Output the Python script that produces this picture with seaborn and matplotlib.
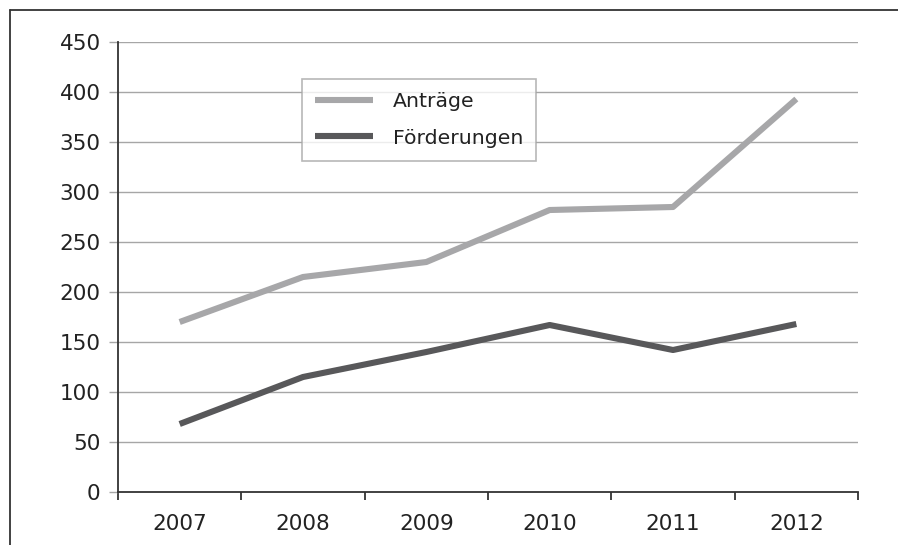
import matplotlib
matplotlib.use("Agg")
import matplotlib.pyplot as plt
from matplotlib.lines import Line2D
import seaborn as sns
import pandas as pd

# Daten
jahre = [2007, 2008, 2009, 2010, 2011, 2012]
antraege = [170, 215, 230, 282, 285, 393]
foerderungen = [68, 115, 140, 167, 142, 168]
serien = ["Anträge", "Förderungen"]
y_ticks = [0, 50, 100, 150, 200, 250, 300, 350, 400, 450]

sns.set_theme(style="white")
plt.rcParams["font.family"] = ["DejaVu Sans"]
FS = 15.5

df = pd.DataFrame({
    "pos": list(range(len(jahre))) * 2,
    "wert": antraege + foerderungen,
    "serie": [serien[0]] * len(jahre) + [serien[1]] * len(jahre),
})

fig = plt.figure(figsize=(8.98, 5.45), dpi=100)
ax = fig.add_axes([118 / 898, 1 - 492 / 545, 740 / 898, 450 / 545])

# Gitterlinien
for v in y_ticks[1:]:
    ax.axhline(v, color="#a6a6a6", lw=1.0, zorder=0)

sns.lineplot(data=df, x="pos", y="wert", hue="serie",
             palette={"Anträge": "#a7a7a9", "Förderungen": "#58585a"},
             lw=4.4, ax=ax, legend=False, solid_capstyle="butt")

ax.set_xlim(-0.5, len(jahre) - 0.5)
ax.set_ylim(0, 450)
ax.set_xlabel("")
ax.set_ylabel("")

# Achsen
for s in ["top", "right"]:
    ax.spines[s].set_visible(False)
ax.spines["left"].set_color("#333333")
ax.spines["bottom"].set_color("#333333")
ax.spines["left"].set_linewidth(1.3)
ax.spines["bottom"].set_linewidth(1.3)

ax.set_yticks(y_ticks)
ax.set_yticklabels([str(v) for v in y_ticks], fontsize=FS, color="#222222")
ax.tick_params(axis="y", length=6.5, width=1.0, color="#a6a6a6", pad=6, direction="out", left=True)

ax.set_xticks(range(len(jahre)))
ax.set_xticklabels([str(j) for j in jahre], fontsize=FS, color="#222222")
ax.set_xticks([i - 0.5 for i in range(len(jahre) + 1)], minor=True)
ax.tick_params(axis="x", which="major", length=0, pad=16)
ax.tick_params(axis="x", which="minor", length=6, width=1.3, color="#333333", direction="out", bottom=True)

# Legende
handles = [Line2D([], [], color="#a7a7a9", lw=4.4, solid_capstyle="butt"),
           Line2D([], [], color="#58585a", lw=4.4, solid_capstyle="butt")]
leg = ax.legend(handles, serien, loc="upper left", bbox_to_anchor=(0.2486, 0.918),
                borderaxespad=0, frameon=True, fancybox=False, fontsize=FS - 0.8,
                handlelength=2.85, handletextpad=0.95, borderpad=0.65, labelspacing=0.85)
leg.get_frame().set_edgecolor("#a6a6a6")
leg.get_frame().set_linewidth(1.2)
for t in leg.get_texts():
    t.set_color("#222222")

# Rahmen oben und links
fig.add_artist(Line2D([10 / 898, 1.02], [1 - 9.5 / 545, 1 - 9.5 / 545], color="#333333", lw=1.3))
fig.add_artist(Line2D([10 / 898, 10 / 898], [-0.02, 1 - 9.5 / 545], color="#333333", lw=1.3))

fig.savefig("out.png", dpi=100)
